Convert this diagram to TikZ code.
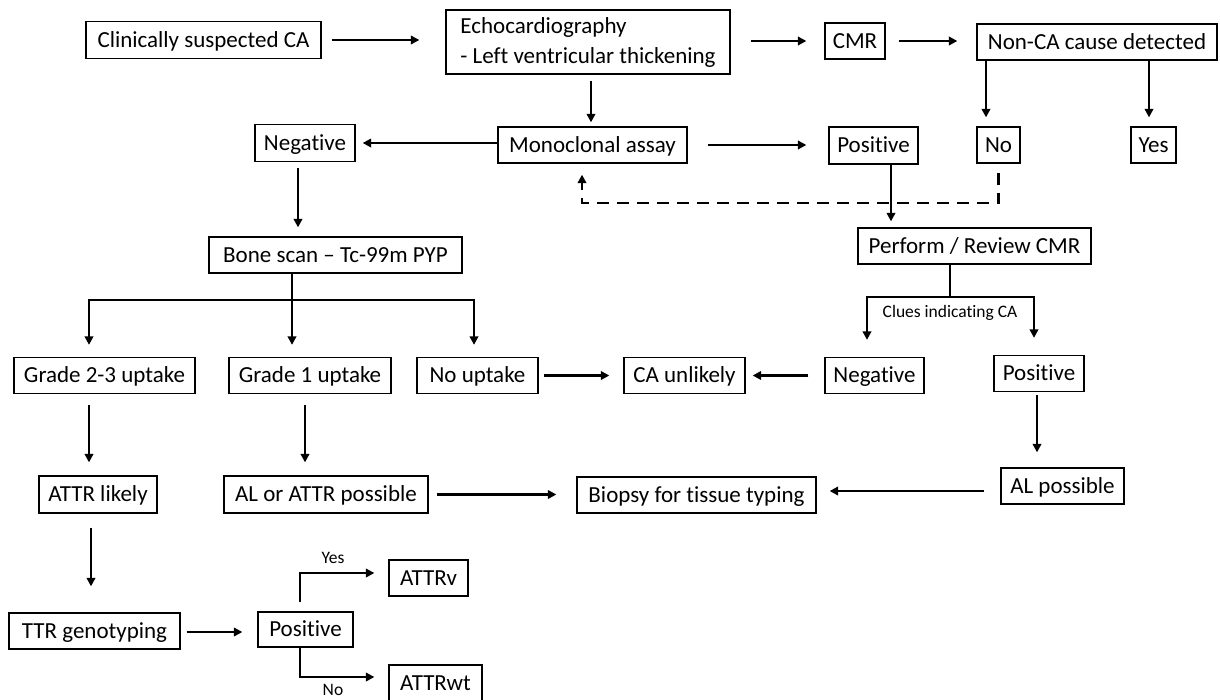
\documentclass[tikz,border=0pt]{standalone}
\usepackage{fontspec}
\setmainfont{Carlito}[Ligatures=NoCommon]
\usetikzlibrary{arrows.meta}
\begin{document}
\begin{tikzpicture}[x=1pt,y=-1pt,
  boxb/.style={draw, line width=1.3pt, inner sep=0pt, align=center, font=\fontsize{23}{30}\selectfont},
  box/.style={boxb, text height=17pt, text depth=3pt},
  arr/.style={line width=2.3pt, -{Triangle[length=8.5pt,width=8.5pt]}},
  ln/.style={line width=2.3pt},
  dsh/.style={line width=2.3pt, dash pattern=on 12pt off 8pt, -{Triangle[length=8.5pt,width=8.5pt]}},
  lbl/.style={font=\fontsize{17.5}{20}\selectfont, inner sep=0pt}]
\useasboundingbox (0,0) rectangle (1220,699);
% row 1
\node[box, minimum width=235, minimum height=37] (clin) at (203.5,40) {Clinically suspected CA};
\node[boxb, minimum width=284, minimum height=64, align=left] (echo) at (588,42) {Echocardiography\\- Left ventricular thickening};
\node[box, minimum width=60, minimum height=36] (cmr) at (855,41) {CMR};
\node[box, minimum width=240, minimum height=36] (nonca) at (1097,42) {Non-CA cause detected};
% row 2
\node[box, minimum width=100, minimum height=37] (neg1) at (305,143) {Negative};
\node[box, minimum width=189, minimum height=36] (mono) at (592.5,145) {Monoclonal assay};
\node[box, minimum width=89, minimum height=37] (pos1) at (873.5,145.5) {Positive};
\node[box, minimum width=43, minimum height=36] (no) at (998.5,145) {No};
\node[box, minimum width=45, minimum height=36] (yes) at (1153.5,145) {Yes};
% row 3
\node[box, minimum width=253, minimum height=36] (bone) at (335.5,255) {Bone scan -- Tc-99m PYP};
\node[box, minimum width=233, minimum height=36] (perf) at (974.5,246) {Perform / Review CMR};
% row 4
\node[box, minimum width=181, minimum height=36] (g23) at (104.5,375.5) {Grade 2-3 uptake};
\node[box, minimum width=162, minimum height=36] (g1) at (310,375.5) {Grade 1 uptake};
\node[box, minimum width=121, minimum height=36] (nou) at (477.5,375.5) {No uptake};
\node[box, minimum width=121, minimum height=36] (caun) at (684.5,375.5) {CA unlikely};
\node[box, minimum width=99, minimum height=36] (neg2) at (874.5,375.5) {Negative};
\node[box, minimum width=90, minimum height=36] (pos2) at (1039,373.5) {Positive};
% row 5
\node[box, minimum width=118, minimum height=37] (attrl) at (98,494.5) {ATTR likely};
\node[box, minimum width=204, minimum height=37] (alat) at (326,494.5) {AL or ATTR possible};
\node[box, minimum width=239, minimum height=36] (biop) at (696.5,495) {Biopsy for tissue typing};
\node[box, minimum width=123, minimum height=36] (alp) at (1062.5,486) {AL possible};
% row 6
\node[box, minimum width=171, minimum height=36] (ttr) at (94.5,631) {TTR genotyping};
\node[box, minimum width=95, minimum height=35] (pos3) at (305.5,629.5) {Positive};
\node[box, minimum width=79, minimum height=36] (attrv) at (428.5,578) {ATTRv};
\node[box, minimum width=93, minimum height=36] (attrwt) at (435.5,683) {ATTRwt};
% labels
\node[lbl] (clues) at (950,313) {Clues indicating CA};
\node[lbl] (lyes) at (333,558) {Yes};
\node[lbl] (lno) at (333,690) {No};
% branch points
\coordinate (pbr) at (950,297);
\coordinate (bbr) at (292,300);
% connectors row 1
\draw[arr, shorten <=10pt, shorten >=26pt] (clin.east) -- (clin.east -| echo.west);
\draw[arr, shorten <=20pt, shorten >=18pt] (echo.east |- cmr.west) -- (cmr.west);
\draw[arr, shorten <=13pt, shorten >=19pt] (cmr.east) -- (nonca.west |- cmr.east);
\draw[arr, shorten >=9pt] (nonca.south -| 986,0) -- (no.north -| 986,0);
\draw[arr, shorten >=9pt] (nonca.south -| 1149,0) -- (yes.north -| 1149,0);
% row 2
\draw[arr, shorten <=6pt, shorten >=4pt] (echo.south -| 591,0) -- (mono.north -| 591,0);
\draw[arr, shorten >=7pt] (mono.west |- 0,143) -- (neg1.east |- 0,143);
\draw[arr, shorten <=20pt, shorten >=22pt] (mono.east) -- (pos1.west |- mono.east);
\draw[arr, shorten <=6pt, shorten >=9pt] (neg1.south -| 298,0) -- (bone.north -| 298,0);
\draw[dsh, shorten <=9pt, shorten >=11pt] (no.south) -- (no.south |- 0,203) -| (mono.south -| 582,0);
\draw[arr, shorten >=6pt] (pos1.south -| 891,0) -- (perf.north -| 891,0);
% perform branch
\draw[ln] (perf.south -| pbr) -- (pbr);
\draw[arr, shorten >=17pt] (pbr) -| (neg2.north -| 867,0);
\draw[arr, shorten >=17pt] (pbr) -| (pos2.north -| 1034,0);
% bone branch
\draw[ln] (bone.south -| bbr) -- (bbr);
\draw[arr, shorten >=12pt] (bbr) -| (g23.north -| 89,0);
\draw[arr, shorten >=12pt] (bbr) -- (g1.north -| bbr);
\draw[arr, shorten >=12pt] (bbr) -| (nou.north -| 474,0);
% row 4
\draw[arr, shorten <=5pt, shorten >=14pt] (nou.east) -- (caun.west);
\draw[arr, shorten <=16pt, shorten >=7pt] (neg2.west) -- (caun.east);
\draw[arr, shorten <=11pt, shorten >=13pt] (g23.south -| 89,0) -- (attrl.north -| 89,0);
\draw[arr, shorten <=11pt, shorten >=13pt] (g1.south -| 305,0) -- (alat.north -| 305,0);
\draw[arr, shorten <=3pt, shorten >=15pt] (pos2.south -| 1037,0) -- (alp.north -| 1037,0);
% row 5
\draw[arr, shorten <=8pt, shorten >=20pt] (alat.east) -- (biop.west |- alat.east);
\draw[arr, shorten <=16pt, shorten >=13pt] (alp.west |- 0,491) -- (biop.east |- 0,491);
\draw[arr, shorten <=14pt, shorten >=26pt] (attrl.south -| 91,0) -- (ttr.north -| 91,0);
% row 6
\draw[arr, shorten <=6pt, shorten >=15pt] (ttr.east |- 0,632) -- (pos3.west |- 0,632);
\draw[arr, shorten <=9pt, shorten >=14pt] (pos3.north -| 300,0) |- (attrv.west |- 0,573);
\draw[arr, shorten >=14pt] (pos3.south -| 300,0) |- (attrwt.west |- 0,677);
\end{tikzpicture}
\end{document}
